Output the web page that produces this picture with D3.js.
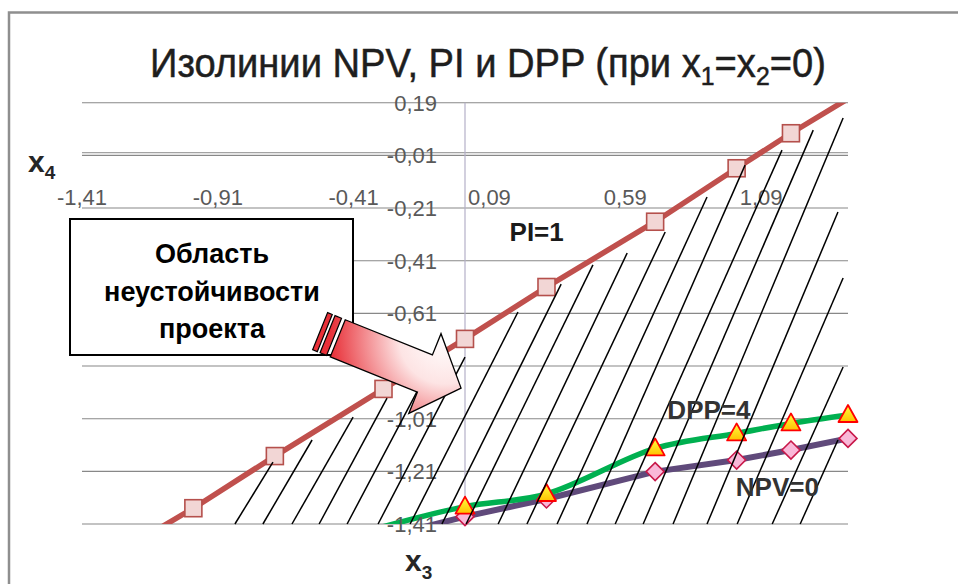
<!DOCTYPE html>
<html><head><meta charset="utf-8">
<script src="https://cdn.jsdelivr.net/npm/d3@7/dist/d3.min.js"></script>
<style>body{margin:0;background:#fff;overflow:hidden}</style>
</head><body>
<svg id="chart" width="958" height="584"></svg>
<script>
// ---------------- data ----------------
const xTicks = [-1.41, -0.91, -0.41, 0.09, 0.59, 1.09];
const yTicks = [0.19, -0.01, -0.21, -0.41, -0.61, -0.81, -1.01, -1.21, -1.41];

const piX  = [-1.41, -1.0, -0.7, -0.3, 0.0, 0.3, 0.7, 1.0, 1.2, 1.41];
const piY  = [-1.60, -1.35, -1.152, -0.897, -0.707, -0.51, -0.262, -0.059, 0.074, 0.205];

const dppX = [-0.3, 0.0, 0.3, 0.7, 1.0, 1.2, 1.41];
const dppY = [-1.42, -1.344, -1.296, -1.123, -1.066, -1.028, -0.996];

const npvX = [-0.3, 0.0, 0.3, 0.7, 1.0, 1.2, 1.41];
const npvY = [-1.46, -1.382, -1.315, -1.211, -1.167, -1.129, -1.085];

// hand-drawn hatching of the region (start on the bottom edge, end point)
const hatchX0 = [-0.847,-0.744,-0.637,-0.537,-0.434,-0.320,-0.202,-0.085,0.004,0.122,0.228,0.339,0.449,0.553,0.656,0.766,0.891,1.002,1.131,1.234];
const hatchX1 = [-0.707,-0.563,-0.412,-0.287,-0.129,0.000,0.195,0.354,0.471,0.597,0.737,0.891,1.031,1.167,1.282,1.392,1.373,1.392,1.392,1.373];
const hatchY1 = [-1.175,-1.091,-1.004,-0.932,-0.814,-0.776,-0.605,-0.499,-0.426,-0.381,-0.301,-0.168,-0.047,0.010,0.086,0.132,-0.225,-0.476,-0.814,-1.091];

const calloutLines = ["Область", "неустойчивости", "проекта"];
const arrowTip = [-0.0145, -0.894];   // data coords of the arrow tip

// ---------------- layout ----------------
const svg = d3.select("#chart");
const x = d3.scaleLinear().domain([-1.41, 1.41]).range([82, 848]);
const y = d3.scaleLinear().domain([-1.41, 0.19]).range([524, 102.7]);
const fmt = v => v.toFixed(2).replace(".", ",");
const font = "'Liberation Sans', Arial, sans-serif";

// outer chart frame
svg.append("path").attr("d", "M9,584 V12.5 H958")
  .attr("fill", "none").attr("stroke", "#8f8f8f").attr("stroke-width", 2.5);

// title (horizontally condensed to the reference width)
const tg0 = svg.append("g");
const title = tg0.append("text").attr("x", 0).attr("y", 0)
  .attr("font-family", font).attr("font-size", 40).attr("fill", "#1e1e1e")
  .attr("stroke", "#1e1e1e").attr("stroke-width", 0.5);
title.append("tspan").text("Изолинии NPV, PI и DPP (при x");
title.append("tspan").attr("font-size", 26).attr("dy", 8).text("1");
title.append("tspan").attr("dy", -8).text("=x");
title.append("tspan").attr("font-size", 26).attr("dy", 8).text("2");
title.append("tspan").attr("dy", -8).text("=0)");
const tw = title.node().getComputedTextLength();
tg0.attr("transform", `translate(150,77) scale(${676 / tw},1)`);

// gridlines
svg.append("g").selectAll("line").data(yTicks).join("line")
  .attr("x1", x(-1.41)).attr("x2", x(1.41))
  .attr("y1", d => y(d)).attr("y2", d => y(d))
  .attr("stroke", "#888").attr("stroke-width", 1.1);
// x axis (at x4 = 0) and y axis (at x3 = 0)
svg.append("line").attr("x1", x(-1.41)).attr("x2", x(1.41))
  .attr("y1", y(0)).attr("y2", y(0)).attr("stroke", "#8a8a8a").attr("stroke-width", 1);
svg.append("line").attr("x1", x(0)).attr("x2", x(0))
  .attr("y1", y(0.19)).attr("y2", y(-1.41)).attr("stroke", "#b4b0c8").attr("stroke-width", 1.2);

// clip for series lines
svg.append("clipPath").attr("id", "plotclip").append("rect")
  .attr("x", x(-1.41)).attr("y", y(0.19))
  .attr("width", x(1.41) - x(-1.41)).attr("height", y(-1.41) - y(0.19));

const inside = (px, py) => px >= -1.41 && px <= 1.41 && py >= -1.41 && py <= 0.19;
const zip = (a, b) => a.map((v, i) => [v, b[i]]);

// NPV = 0
const npv = zip(npvX, npvY);
svg.append("path").datum(npv).attr("clip-path", "url(#plotclip)")
  .attr("d", d3.line().x(d => x(d[0])).y(d => y(d[1])))
  .attr("fill", "none").attr("stroke", "#604a7b").attr("stroke-width", 6)
  .attr("stroke-linejoin", "round");
// DPP = 4
const dpp = zip(dppX, dppY);
svg.append("path").datum(dpp).attr("clip-path", "url(#plotclip)")
  .attr("d", d3.line().curve(d3.curveCatmullRom.alpha(0.5)).x(d => x(d[0])).y(d => y(d[1])))
  .attr("fill", "none").attr("stroke", "#00b050").attr("stroke-width", 5.5)
  .attr("stroke-linejoin", "round");
// PI = 1
const pi = zip(piX, piY);
svg.append("path").datum(pi).attr("clip-path", "url(#plotclip)")
  .attr("d", d3.line().x(d => x(d[0])).y(d => y(d[1])))
  .attr("fill", "none").attr("stroke", "#c0504d").attr("stroke-width", 5.5)
  .attr("stroke-linejoin", "round");

// gradients
const defs = svg.append("defs");
const tg = defs.append("linearGradient").attr("id", "tri").attr("x1", 0).attr("y1", 0).attr("x2", 0).attr("y2", 1);
tg.append("stop").attr("offset", "0%").attr("stop-color", "#ffff40");
tg.append("stop").attr("offset", "100%").attr("stop-color", "#ffc000");
const ag = defs.append("radialGradient").attr("id", "arrowGrad").attr("gradientUnits", "userSpaceOnUse")
  .attr("cx", 445).attr("cy", 338).attr("r", 115);
ag.append("stop").attr("offset", "0%").attr("stop-color", "#ffffff");
ag.append("stop").attr("offset", "40%").attr("stop-color", "#fde4e4");
ag.append("stop").attr("offset", "100%").attr("stop-color", "#e83038");

// markers
svg.append("g").selectAll("path").data(npv.filter(d => inside(d[0], d[1]))).join("path")
  .attr("transform", d => `translate(${x(d[0])},${y(d[1])})`)
  .attr("d", "M0,-9 L9,0 L0,9 L-9,0 Z")
  .attr("fill", "#f9b8d8").attr("stroke", "#c8184a").attr("stroke-width", 1.6);
svg.append("g").selectAll("path").data(dpp.filter(d => inside(d[0], d[1]))).join("path")
  .attr("transform", d => `translate(${x(d[0])},${y(d[1])})`)
  .attr("d", "M0,-10 L9.5,7 L-9.5,7 Z")
  .attr("fill", "url(#tri)").attr("stroke", "#ff0000").attr("stroke-width", 1.8)
  .attr("stroke-linejoin", "round");
svg.append("g").selectAll("rect").data(pi.filter(d => inside(d[0], d[1]))).join("rect")
  .attr("x", d => x(d[0]) - 8.5).attr("y", d => y(d[1]) - 8.5)
  .attr("width", 17).attr("height", 17)
  .attr("fill", "#f2d6d5").attr("stroke", "#b5504c").attr("stroke-width", 1.6);

// tick labels
svg.append("g").selectAll("text").data(yTicks).join("text")
  .attr("x", 437).attr("y", d => y(d)).attr("dy", "0.36em")
  .attr("text-anchor", "end").attr("font-family", font).attr("font-size", 22)
  .attr("fill", "#595959").text(fmt);
svg.append("g").selectAll("text").data(xTicks).join("text")
  .attr("x", d => x(d)).attr("y", 205)
  .attr("text-anchor", "middle").attr("font-family", font).attr("font-size", 22)
  .attr("fill", "#595959").text(fmt);

// axis titles
const ax4 = svg.append("text").attr("x", 28).attr("y", 172)
  .attr("font-family", font).attr("font-weight", "bold").attr("font-size", 30).attr("fill", "#262626");
ax4.append("tspan").text("x");
ax4.append("tspan").attr("font-size", 19).attr("dy", 7).text("4");
const ax3 = svg.append("text").attr("x", 405).attr("y", 571)
  .attr("font-family", font).attr("font-weight", "bold").attr("font-size", 30).attr("fill", "#262626");
ax3.append("tspan").text("x");
ax3.append("tspan").attr("font-size", 19).attr("dy", 8).text("3");

// hatching
svg.append("g").selectAll("line").data(hatchX0.map((v, i) => i)).join("line")
  .attr("x1", i => x(hatchX0[i])).attr("y1", y(-1.41))
  .attr("x2", i => x(hatchX1[i])).attr("y2", i => y(hatchY1[i]))
  .attr("stroke", "#000").attr("stroke-width", 1.5);

// isoline labels
const lbl = [["PI=1", 0.164, -0.335], ["DPP=4", 0.745, -1.01], ["NPV=0", 0.997, -1.304]];
svg.append("g").selectAll("text").data(lbl).join("text")
  .attr("x", d => x(d[1])).attr("y", d => y(d[2]))
  .attr("font-family", font).attr("font-weight", "bold").attr("font-size", 26)
  .attr("fill", (d, i) => i === 0 ? "#1a1a1a" : "#333").text(d => d[0]);

// callout box
svg.append("rect").attr("x", 70).attr("y", 219).attr("width", 283).attr("height", 136)
  .attr("fill", "#fff").attr("stroke", "#000").attr("stroke-width", 2);
svg.append("g").selectAll("text").data(calloutLines).join("text")
  .attr("x", 212).attr("y", (d, i) => 263 + i * 37.5)
  .attr("text-anchor", "middle").attr("font-family", font).attr("font-weight", "bold")
  .attr("font-size", 27).attr("fill", "#000").text(d => d);

// block arrow (local frame: tip at origin, pointing along +u)
const th = 22 * Math.PI / 180;
const tx = x(arrowTip[0]), ty = y(arrowTip[1]);
const P = (a, b) => [tx + a * Math.cos(th) - b * Math.sin(th), ty + a * Math.sin(th) + b * Math.cos(th)];
const headL = 39, headW = 43, bodyW = 20, bodyL = 94;
const arrowPts = [P(-headL - bodyL, -bodyW), P(-headL, -bodyW), P(-headL, -headW), P(0, 0),
                  P(-headL, headW), P(-headL, bodyW), P(-headL - bodyL, bodyW)];
const stripes = [[-11, -4], [-19, -14]];
stripes.forEach(s => {
  const a0 = -headL - bodyL + s[0], a1 = -headL - bodyL + s[1];
  svg.append("path").attr("d", "M" + [P(a0, -bodyW), P(a1, -bodyW), P(a1, bodyW), P(a0, bodyW)].join("L") + "Z")
    .attr("fill", "url(#arrowGrad)").attr("stroke", "#000").attr("stroke-width", 1.2);
});
svg.append("path").attr("d", "M" + arrowPts.join("L") + "Z")
  .attr("fill", "url(#arrowGrad)").attr("stroke", "#000").attr("stroke-width", 1.3)
  .attr("stroke-linejoin", "miter");
</script>
</body></html>
